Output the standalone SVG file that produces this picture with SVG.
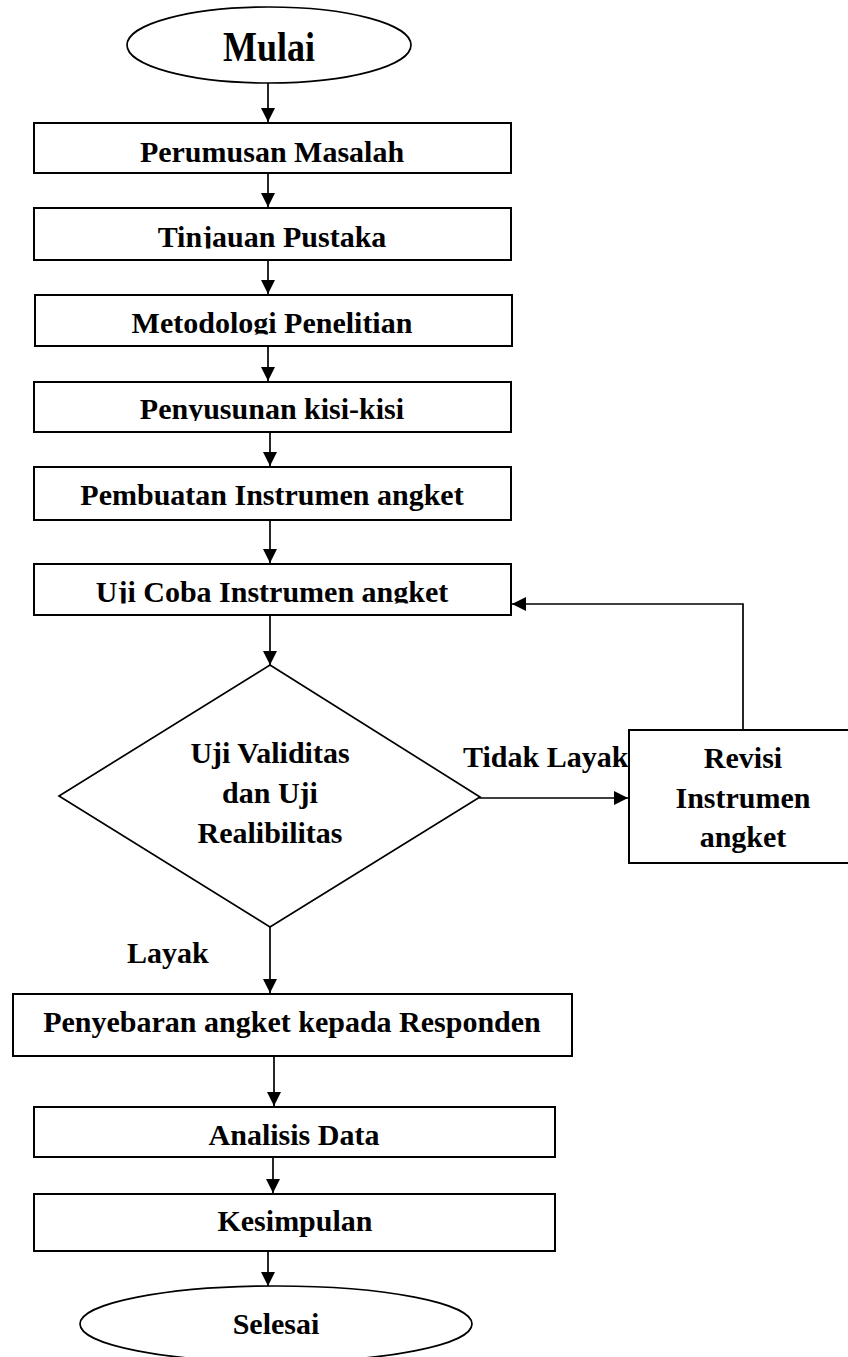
<svg xmlns="http://www.w3.org/2000/svg" width="848" height="1357" viewBox="0 0 848 1357">
<style>
  .box { fill: #fff; stroke: #000; stroke-width: 2; }
  .t { font-family: "Liberation Serif", "Times New Roman", serif; font-weight: bold; font-size: 30px; fill: #000; text-anchor: middle; }
  .l { font-family: "Liberation Serif", "Times New Roman", serif; font-weight: bold; font-size: 30px; fill: #000; }
  .c { fill: none; stroke: #000; stroke-width: 1.7; }
</style>
<defs>
  <marker id="ah" markerUnits="userSpaceOnUse" markerWidth="14" markerHeight="14" refX="14" refY="7" orient="auto">
    <path d="M0,0 L14,7 L0,14 z" fill="#000"/>
  </marker>
  <clipPath id="cp2" clipPathUnits="userSpaceOnUse"><rect x="0" y="200" width="848" height="48.5"/></clipPath>
  <clipPath id="cp3" clipPathUnits="userSpaceOnUse"><rect x="0" y="290" width="848" height="44.5"/></clipPath>
  <clipPath id="cp4" clipPathUnits="userSpaceOnUse"><rect x="0" y="380" width="848" height="41"/></clipPath>
  <clipPath id="cp6" clipPathUnits="userSpaceOnUse"><rect x="0" y="560" width="848" height="43.5"/></clipPath>
</defs>
<rect width="848" height="1357" fill="#fff"/>

<g id="connectors">
  <line class="c" x1="268" y1="83" x2="268" y2="122" marker-end="url(#ah)"/>
  <line class="c" x1="268" y1="173" x2="268" y2="207" marker-end="url(#ah)"/>
  <line class="c" x1="268" y1="260" x2="268" y2="294" marker-end="url(#ah)"/>
  <line class="c" x1="268" y1="346" x2="268" y2="381" marker-end="url(#ah)"/>
  <line class="c" x1="270" y1="432" x2="270" y2="466" marker-end="url(#ah)"/>
  <line class="c" x1="270" y1="520" x2="270" y2="563" marker-end="url(#ah)"/>
  <line class="c" x1="270" y1="615" x2="270" y2="665" marker-end="url(#ah)"/>
  <line class="c" x1="270" y1="927" x2="270" y2="993" marker-end="url(#ah)"/>
  <polyline class="c" points="480,797 480,798 628,798" marker-end="url(#ah)"/>
  <polyline class="c" points="743,730 743,604 512,604" marker-end="url(#ah)"/>
  <line class="c" x1="274" y1="1056" x2="274" y2="1106" marker-end="url(#ah)"/>
  <line class="c" x1="273" y1="1157" x2="273" y2="1193" marker-end="url(#ah)"/>
  <line class="c" x1="268" y1="1251" x2="268" y2="1286" marker-end="url(#ah)"/>
</g>

<g id="mulai">
  <ellipse cx="269" cy="45" rx="142" ry="38" fill="#fff" stroke="#000" stroke-width="1.7"/>
  <text x="269" y="0" class="t" style="font-size:36px" transform="translate(0,61) scale(1,1.15)">Mulai</text>
</g>
<g id="perumusan">
  <rect class="box" x="34" y="123" width="477" height="50"/>
  <text x="272" y="162" class="t">Perumusan Masalah</text>
</g>
<g id="tinjauan">
  <rect class="box" x="34" y="208" width="477" height="52"/>
  <text x="272" y="247" class="t" clip-path="url(#cp2)">Tinjauan Pustaka</text>
</g>
<g id="metodologi">
  <rect class="box" x="35" y="295" width="477" height="51"/>
  <text x="272" y="333" class="t" clip-path="url(#cp3)">Metodologi Penelitian</text>
</g>
<g id="penyusunan">
  <rect class="box" x="34" y="382" width="477" height="50"/>
  <text x="272" y="419" class="t" clip-path="url(#cp4)">Penyusunan kisi-kisi</text>
</g>
<g id="pembuatan">
  <rect class="box" x="34" y="467" width="477" height="53"/>
  <text x="272" y="505" class="t">Pembuatan Instrumen angket</text>
</g>
<g id="ujicoba">
  <rect class="box" x="34" y="564" width="477" height="51"/>
  <text x="272" y="602" class="t" clip-path="url(#cp6)">Uji Coba Instrumen angket</text>
</g>
<g id="uji-validitas">
  <polygon points="270,665 480,797 270,927 59,796" fill="#fff" stroke="#000" stroke-width="1.7"/>
  <text x="270" y="763" class="t">Uji Validitas</text>
  <text x="270" y="803" class="t">dan Uji</text>
  <text x="270" y="843" class="t">Realibilitas</text>
</g>
<g id="revisi">
  <rect class="box" x="629" y="730" width="228" height="133"/>
  <text x="743" y="768" class="t">Revisi</text>
  <text x="743" y="808" class="t">Instrumen</text>
  <text x="743" y="847" class="t">angket</text>
</g>
<g id="label-tidak-layak">
  <text x="463" y="767" class="l">Tidak Layak</text>
</g>
<g id="label-layak">
  <text x="127" y="963" class="l">Layak</text>
</g>
<g id="penyebaran">
  <rect class="box" x="13" y="994" width="559" height="62"/>
  <text x="292" y="1032" class="t">Penyebaran angket kepada Responden</text>
</g>
<g id="analisis">
  <rect class="box" x="34" y="1107" width="521" height="50"/>
  <text x="294" y="1145" class="t">Analisis Data</text>
</g>
<g id="kesimpulan">
  <rect class="box" x="34" y="1194" width="521" height="57"/>
  <text x="295" y="1231" class="t">Kesimpulan</text>
</g>
<g id="selesai">
  <ellipse cx="276" cy="1324" rx="196" ry="38" fill="#fff" stroke="#000" stroke-width="1.7"/>
  <text x="276" y="1334" class="t">Selesai</text>
</g>
</svg>
